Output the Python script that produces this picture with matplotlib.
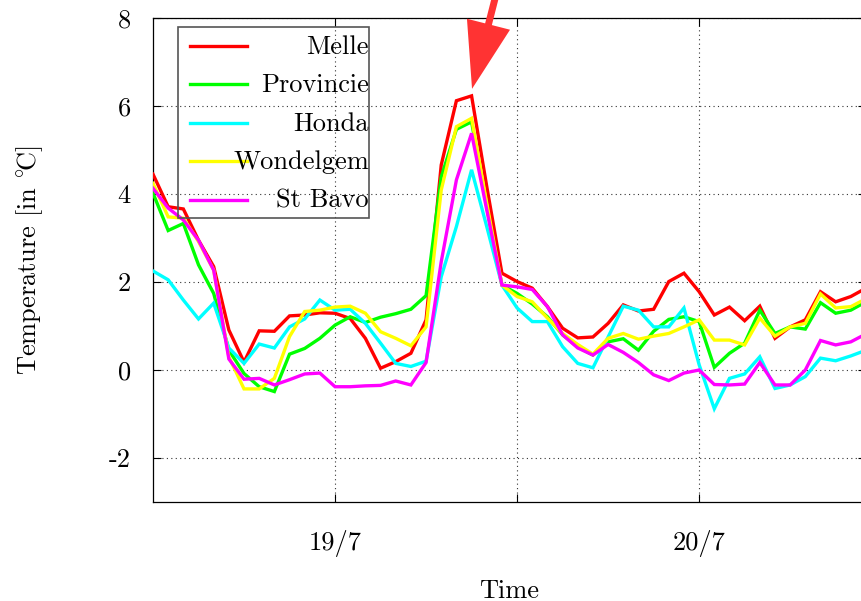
import numpy as np
import matplotlib
matplotlib.use("Agg")
import matplotlib.pyplot as plt
from matplotlib.patches import Rectangle
from matplotlib.lines import Line2D

plt.rcParams["font.family"] = ["cmr10", "DejaVu Serif"]
plt.rcParams["mathtext.fontset"] = "cm"
plt.rcParams["axes.unicode_minus"] = False
plt.rcParams["axes.formatter.use_mathtext"] = True

# hourly temperatures, starting 18/7 12:00
hours = np.arange(48)

melle = [4.45, 3.71, 3.66, 2.95, 2.35, 0.91, 0.18, 0.89, 0.88, 1.23,
         1.25, 1.30, 1.29, 1.17, 0.72, 0.04, 0.19, 0.38, 1.14, 4.66,
         6.12, 6.23, 4.17, 2.20, 2.01, 1.86, 1.44, 0.95, 0.73, 0.75,
         1.06, 1.48, 1.34, 1.38, 2.01, 2.20, 1.78, 1.25, 1.43, 1.12,
         1.45, 0.72, 0.98, 1.14, 1.78, 1.55, 1.67, 1.86]
provincie = [4.02, 3.17, 3.33, 2.39, 1.74, 0.45, -0.08, -0.38, -0.49, 0.36,
             0.49, 0.72, 1.02, 1.21, 1.08, 1.20, 1.28, 1.38, 1.69, 4.39,
             5.47, 5.64, 3.71, 1.93, 1.74, 1.50, 1.21, 0.80, 0.52, 0.34,
             0.64, 0.71, 0.45, 0.88, 1.15, 1.21, 1.10, 0.06, 0.38, 0.61,
             1.36, 0.83, 0.98, 0.93, 1.53, 1.29, 1.36, 1.55]
honda = [2.25, 2.05, 1.59, 1.16, 1.52, 0.50, 0.15, 0.59, 0.50, 0.98,
         1.16, 1.59, 1.36, 1.38, 1.06, 0.61, 0.15, 0.08, 0.20, 2.12,
         3.26, 4.55, 3.26, 1.93, 1.41, 1.10, 1.10, 0.53, 0.15, 0.05,
         0.75, 1.45, 1.36, 0.98, 0.98, 1.41, 0.12, -0.88, -0.19, -0.09,
         0.30, -0.42, -0.34, -0.15, 0.27, 0.21, 0.32, 0.45]
wondelgem = [4.24, 3.48, 3.45, 2.92, 2.27, 0.30, -0.43, -0.43, -0.19, 0.76,
             1.33, 1.36, 1.43, 1.45, 1.29, 0.87, 0.72, 0.55, 0.98, 4.09,
             5.53, 5.72, 3.79, 1.93, 1.67, 1.55, 1.18, 0.83, 0.58, 0.36,
             0.72, 0.83, 0.70, 0.77, 0.83, 0.98, 1.14, 0.68, 0.68, 0.57,
             1.18, 0.77, 0.98, 1.06, 1.73, 1.41, 1.44, 1.62]
st_bavo = [4.13, 3.68, 3.41, 2.95, 2.27, 0.25, -0.21, -0.19, -0.34, -0.22,
           -0.09, -0.07, -0.38, -0.38, -0.36, -0.35, -0.25, -0.34, 0.17, 2.46,
           4.32, 5.38, 3.64, 1.93, 1.89, 1.83, 1.44, 0.80, 0.50, 0.34,
           0.58, 0.40, 0.17, -0.11, -0.24, -0.07, 0.0, -0.33, -0.34, -0.32,
           0.17, -0.34, -0.34, 0.0, 0.67, 0.57, 0.64, 0.82]

stations = ["Melle", "Provincie", "Honda", "Wondelgem", "St Bavo"]
colors = ["#ff0000", "#00ff00", "#00ffff", "#ffff00", "#ff00ff"]
series = [melle, provincie, honda, wondelgem, st_bavo]

xtick_pos = [12, 24, 36]
xtick_labels = ["19/7", "", "20/7"]
ytick_pos = [-2, 0, 2, 4, 6, 8]

W, H = 861, 601
fig = plt.figure(figsize=(W / 100, H / 100), dpi=100)
ax = fig.add_axes([153 / W, 1 - 502 / H, (866 - 153) / W, (502 - 18) / H])

for vals, col in zip(series, colors):
    ax.plot(hours, vals, color=col, lw=2.4, solid_joinstyle="miter", zorder=3)

ax.set_xlim(0, 47)
ax.set_ylim(-3, 8)
ax.set_xticks(xtick_pos)
ax.set_xticklabels(xtick_labels)
ax.set_yticks(ytick_pos)
ax.set_yticklabels([str(v) for v in ytick_pos])

ax.set_axisbelow(True)
ax.grid(True, linestyle=(0, (1, 3)), color="#333333", lw=0.8)
for sp in ax.spines.values():
    sp.set_linewidth(0.9)

ax.tick_params(direction="in", length=6, width=0.8, top=True, right=True,
               labelsize=19)
ax.tick_params(axis="x", pad=20)
ax.tick_params(axis="y", pad=16)

ax.set_xlabel("Time", fontsize=19, labelpad=16)
ax.set_ylabel(r"Temperature [in $^{\circ}\!\mathrm{C}$]", fontsize=19, labelpad=46)

# legend box with right-aligned station names
fig.patches.append(Rectangle((178 / W, 1 - 218 / H), (369 - 178) / W, (218 - 27) / H,
                             transform=fig.transFigure, fill=False,
                             edgecolor="#555555", lw=1.2, zorder=5))
for i, (name, col) in enumerate(zip(stations, colors)):
    yc = 46 + i * 38.4
    fig.lines.append(Line2D([190 / W, 247 / W], [1 - yc / H] * 2,
                            transform=fig.transFigure, color=col, lw=2.4, zorder=5))
    fig.text(369 / W, 1 - (yc + 8) / H, name, ha="right", va="baseline",
             fontsize=19, zorder=6)

# arrow pointing at the Melle peak
ax.annotate("", xy=(21.03, 6.39), xytext=(22.7, 8.65),
            xycoords="data", textcoords="data", annotation_clip=False,
            arrowprops=dict(arrowstyle="simple,head_length=48,head_width=32,tail_width=5",
                            mutation_scale=1, color="#ff3333", lw=0,
                            shrinkA=0, shrinkB=0))

fig.savefig("out.png", dpi=100)
